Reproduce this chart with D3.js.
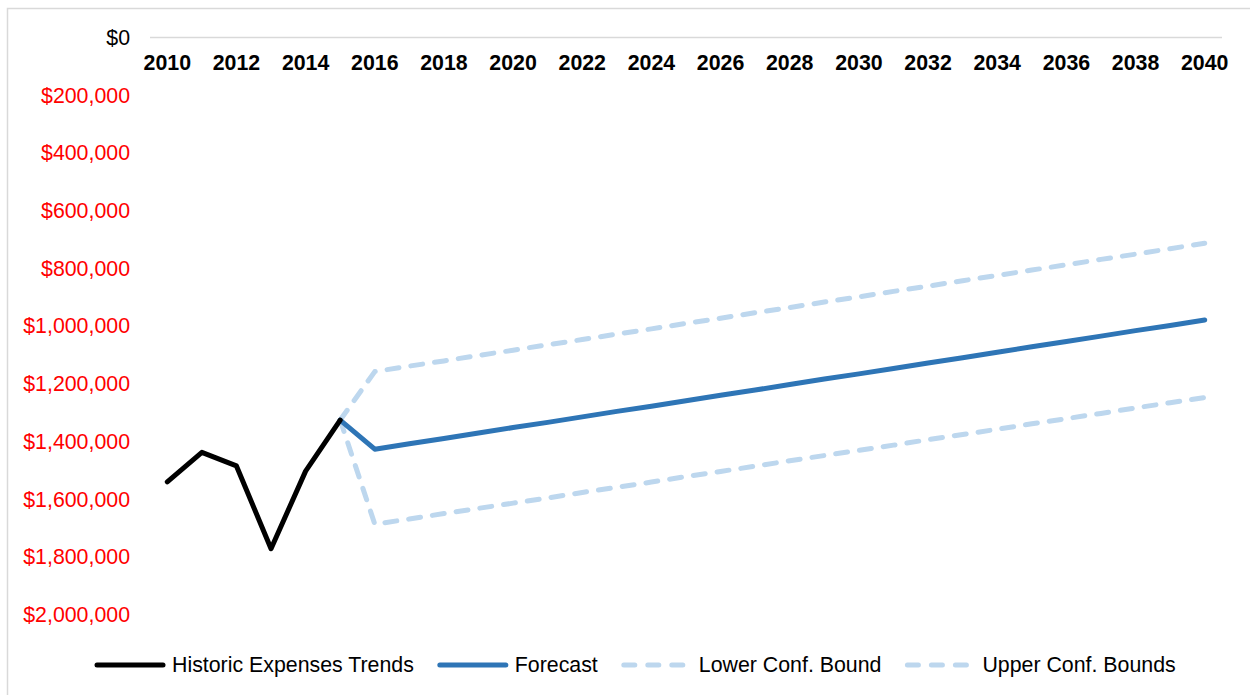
<!DOCTYPE html>
<html>
<head>
<meta charset="utf-8">
<script src="https://cdn.jsdelivr.net/npm/d3@7"></script>
<style>
  html, body { margin: 0; padding: 0; background: #fff; }
  svg { display: block; font-family: "Liberation Sans", Arial, sans-serif; }
</style>
</head>
<body>
<svg id="chart" width="1250" height="695"></svg>
<script>
// Years on the category axis
const years = d3.range(2010, 2041);
const tickYears = years.filter(y => y % 2 === 0);

// Historic expenses (negative = outflow)
const historicYears = [2010, 2011, 2012, 2013, 2014, 2015];
const historicValues = [-1540000, -1438000, -1485000, -1772000, -1503000, -1326000];

// Forecast and confidence bounds, starting from the last historic year
const forecastYears = d3.range(2015, 2041);
const forecastValues = [
  -1326000, -1427000, -1408000, -1390000, -1371000, -1352000, -1334000,
  -1315000, -1296000, -1278000, -1259000, -1240000, -1222000, -1203000,
  -1184000, -1166000, -1147000, -1128000, -1110000, -1091000, -1072000,
  -1054000, -1035000, -1016000, -998000, -979000
];
const lowerBoundValues = [
  -1326000, -1687000, -1669000, -1650000, -1632000, -1614000, -1596000,
  -1577000, -1559000, -1541000, -1522000, -1504000, -1486000, -1467000,
  -1449000, -1431000, -1413000, -1394000, -1376000, -1358000, -1339000,
  -1321000, -1303000, -1284000, -1266000, -1248000
];
const upperBoundValues = [
  -1326000, -1158000, -1139000, -1121000, -1102000, -1084000, -1065000,
  -1047000, -1028000, -1010000, -991000, -973000, -954000, -936000,
  -917000, -899000, -880000, -862000, -843000, -825000, -806000,
  -788000, -769000, -751000, -732000, -713000
];

// Value axis ticks
const yTicks = d3.range(0, -2000001, -200000);

const svg = d3.select("#chart");

// Chart area frame
svg.append("rect")
  .attr("x", 7.5).attr("y", 8.5)
  .attr("width", 1270).attr("height", 720)
  .attr("fill", "none")
  .attr("stroke", "#d9d9d9")
  .attr("stroke-width", 1.5);

const x = d3.scaleBand().domain(years).range([150, 1222]).paddingInner(0).paddingOuter(0);
const xc = yr => x(yr) + x.bandwidth() / 2;
const y = d3.scaleLinear().domain([0, -2000000]).range([37.5, 614.5]);

// Category axis along the zero line
svg.append("line")
  .attr("x1", 150).attr("x2", 1222)
  .attr("y1", y(0)).attr("y2", y(0))
  .attr("stroke", "#d9d9d9")
  .attr("stroke-width", 1.5);

svg.append("g")
  .selectAll("text")
  .data(tickYears)
  .join("text")
  .attr("x", d => xc(d))
  .attr("y", 70)
  .attr("text-anchor", "middle")
  .attr("font-size", "21.33px")
  .attr("font-weight", "bold")
  .attr("fill", "#000")
  .text(d => d);

// Value labels: negatives shown in red without a minus sign
const money = d3.format(",");
svg.append("g")
  .selectAll("text")
  .data(yTicks)
  .join("text")
  .attr("x", 130)
  .attr("y", d => y(d))
  .attr("dy", "0.35em")
  .attr("text-anchor", "end")
  .attr("font-size", "21.33px")
  .attr("fill", d => d < 0 ? "#ff0000" : "#000")
  .text(d => "$" + money(Math.abs(d)));

const line = d3.line().x(d => xc(d[0])).y(d => y(d[1]));
const pairs = (ys, vs) => ys.map((yr, i) => [yr, vs[i]]);

const series = [
  { name: "Historic Expenses Trends", data: pairs(historicYears, historicValues), color: "#000000", dash: null },
  { name: "Forecast", data: pairs(forecastYears, forecastValues), color: "#2e75b6", dash: null },
  { name: "Lower Conf. Bound", data: pairs(forecastYears, lowerBoundValues), color: "#bdd7ee", dash: "12,12" },
  { name: "Upper Conf. Bounds", data: pairs(forecastYears, upperBoundValues), color: "#bdd7ee", dash: "12,12" }
];

// Draw bounds first so the solid lines sit on top
const drawOrder = [series[2], series[3], series[1], series[0]];
svg.append("g")
  .selectAll("path")
  .data(drawOrder)
  .join("path")
  .attr("d", d => line(d.data))
  .attr("fill", "none")
  .attr("stroke", d => d.color)
  .attr("stroke-width", 5)
  .attr("stroke-linejoin", "round")
  .attr("stroke-linecap", "round")
  .attr("stroke-dasharray", d => d.dash);

// Legend laid out left to right
const legend = svg.append("g");
let cursor = 94;
const legendY = 665;
series.forEach(s => {
  legend.append("line")
    .attr("x1", cursor + 3).attr("x2", cursor + 69)
    .attr("y1", legendY).attr("y2", legendY)
    .attr("stroke", s.color)
    .attr("stroke-width", 5)
    .attr("stroke-linecap", "round")
    .attr("stroke-dasharray", s.dash ? "11,13" : null);
  const t = legend.append("text")
    .attr("x", cursor + 78)
    .attr("y", legendY)
    .attr("dy", "0.35em")
    .attr("font-size", "21.33px")
    .attr("fill", "#000")
    .text(s.name);
  cursor += 78 + t.node().getComputedTextLength() + 23;
});
</script>
</body>
</html>
